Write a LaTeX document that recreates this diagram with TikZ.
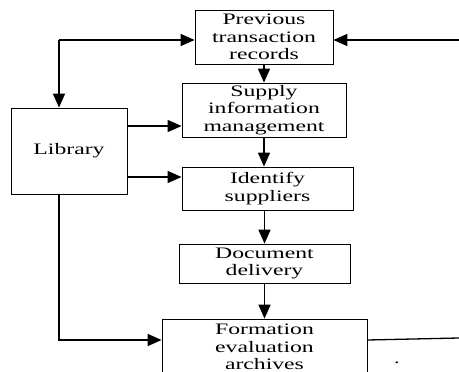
\documentclass[tikz,border=0pt]{standalone}
\usepackage{fontspec}
\setmainfont{Liberation Serif}[FakeStretch=1.48]
\usetikzlibrary{arrows.meta}

\begin{document}
\begin{tikzpicture}[x=1pt,y=1pt,
    box/.style={draw,line width=0.8pt,align=center,inner sep=1pt,
                font=\fontsize{16}{17.5}\selectfont},
    arr/.style={line width=1.7pt,-{Triangle[length=14pt,width=12pt]}}]
            \useasboundingbox (0,0) rectangle (459,-372);
            \clip (0,0) rectangle (459,-372);
            \node[box,minimum width=138,minimum height=54] (prev) at (264,-37)
                {Previous\\transaction\\records};
            \node[box,minimum width=164,minimum height=54] (supply) at (264,-110)
                {Supply\\information\\management};
            \node[box,minimum width=116,minimum height=86] (lib) at (69,-151) {Library};
            \node[box,minimum width=171,minimum height=43] (ident) at (267.5,-188.5)
                {Identify\\suppliers};
            \node[box,minimum width=171,minimum height=39] (doc) at (264.5,-263.5)
                {Document\\delivery};
            \node[box,minimum width=205,minimum height=56] (form) at (264.5,-347)
                {Formation\\evaluation\\archives};
            \node[font=\fontsize{15}{18}\selectfont,inner sep=0pt] (dot) at (397,-363) {.};
            %
            \coordinate (corner) at (59,-40);
            \coordinate (rin) at (459,-40);
            \draw[arr] (corner) -- (corner -| prev.west);
            \draw[arr] (corner) -- (corner |- lib.north);
            \draw[arr] (rin) -- (rin -| prev.east);
            \draw[arr] (prev.south) -- (supply.north);
            %
            \coordinate (l1) at ([yshift=25pt]lib.east);
            \coordinate (l2) at ([yshift=-26pt]lib.east);
            \draw[arr,line width=1.3pt] (l1) -- (l1 -| supply.west);
            \draw[arr,line width=1.3pt] (l2) -- (l2 -| ident.west);
            \draw[arr] (supply.south) -- (supply.south |- ident.north);
            \draw[arr] (doc.north |- ident.south) -- (doc.north);
            \draw[arr] (doc.south) -- (form.north);
            %
            \coordinate (bl) at (59,-340);
            \coordinate (rout) at (459,-338);
            \draw[arr] (bl |- lib.south) -- (bl) -- (bl -| form.west);
            \draw[line width=1.3pt] (bl -| form.east) -- (rout);
        \end{tikzpicture}
\end{document}
